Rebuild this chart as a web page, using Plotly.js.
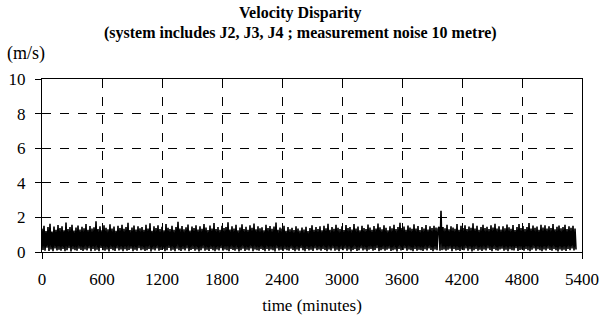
<!DOCTYPE html>
<html>
<head>
<meta charset="utf-8">
<script src="https://cdn.plot.ly/plotly-3.0.1.min.js"></script>
<style>html,body{margin:0;padding:0;background:#fff;}#chart{width:603px;height:320px;}</style>
</head>
<body>
<div id="chart"></div>
<script>
// time step between samples (minutes)
const timeStart = 0;
const timeStep = 10;
// velocity disparity (m/s)
const velocity = [
1.35,0.12,1.52,0.08,1.21,0.25,1.44,0.06,1.63,0.15,1.18,0.04,1.47,0.21,1.29,0.09,1.56,0.13,1.38,0.07,
1.49,0.18,1.26,0.05,1.71,0.11,1.33,0.22,1.45,0.03,1.58,0.16,1.24,0.10,1.41,0.07,1.53,0.19,1.30,0.12,
1.46,0.06,1.37,0.14,1.62,0.09,1.28,0.20,1.50,0.04,1.35,0.17,1.43,0.08,1.77,0.13,1.32,0.05,1.48,0.23,
1.25,0.10,1.55,0.07,1.40,0.15,1.31,0.03,1.60,0.18,1.36,0.11,1.47,0.06,1.22,0.21,1.51,0.09,1.39,0.14,
1.58,0.05,1.34,0.16,1.45,0.08,1.69,0.12,1.27,0.19,1.42,0.04,1.53,0.13,1.30,0.07,1.48,0.22,1.37,0.10,
1.44,0.15,1.29,0.06,1.57,0.11,1.35,0.18,1.66,0.03,1.23,0.14,1.49,0.09,1.38,0.20,1.54,0.07,1.32,0.12,
1.46,0.17,1.26,0.05,1.61,0.10,1.40,0.24,1.33,0.08,1.52,0.13,1.28,0.04,1.45,0.19,1.74,0.11,1.36,0.06,
1.50,0.16,1.31,0.09,1.43,0.21,1.59,0.05,1.24,0.12,1.47,0.18,1.39,0.07,1.55,0.14,1.30,0.03,1.48,0.10,
1.34,0.20,1.62,0.08,1.41,0.13,1.27,0.06,1.53,0.17,1.36,0.11,1.68,0.04,1.32,0.15,1.45,0.09,1.29,0.22,
1.51,0.07,1.38,0.14,1.44,0.10,1.72,0.05,1.30,0.18,1.49,0.12,1.35,0.08,1.57,0.16,1.26,0.03,1.42,0.11,
1.60,0.19,1.33,0.06,1.46,0.13,1.28,0.09,1.54,0.21,1.40,0.04,1.65,0.15,1.31,0.10,1.48,0.07,1.37,0.17,
1.43,0.12,1.25,0.05,1.58,0.18,1.39,0.08,1.50,0.14,1.34,0.11,1.47,0.03,1.70,0.20,1.29,0.09,1.41,0.13,
1.36,0.06,1.52,0.16,1.22,0.10,1.45,0.07,1.31,0.19,1.40,0.12,1.27,0.04,1.49,0.15,1.35,0.08,1.24,0.22,
1.42,0.11,1.30,0.05,1.46,0.17,1.21,0.09,1.38,0.13,1.55,0.06,1.28,0.20,1.44,0.10,1.33,0.14,1.48,0.07,
1.26,0.18,1.51,0.12,1.37,0.04,1.63,0.15,1.29,0.09,1.45,0.21,1.34,0.07,1.58,0.13,1.40,0.05,1.32,0.16,
1.49,0.10,1.27,0.19,1.56,0.08,1.38,0.14,1.44,0.03,1.30,0.12,1.61,0.17,1.35,0.06,1.47,0.11,1.25,0.20,
1.52,0.09,1.39,0.15,1.33,0.05,1.59,0.13,1.41,0.18,1.28,0.07,1.50,0.12,1.36,0.22,1.64,0.04,1.43,0.10,
1.31,0.16,1.54,0.08,1.40,0.13,1.26,0.19,1.48,0.06,1.37,0.11,1.57,0.14,1.32,0.03,1.45,0.17,1.69,0.09,
1.38,0.12,1.47,0.20,1.29,0.07,1.53,0.15,1.42,0.10,1.34,0.05,1.60,0.18,1.36,0.08,1.50,0.13,1.27,0.11,
1.44,0.06,1.35,0.16,1.56,0.09,1.30,0.21,1.48,0.12,1.39,0.04,1.52,0.14,1.41,0.10,1.33,1.46,0.07,2.38,
0.11,1.45,0.15,1.37,0.08,1.58,0.13,1.31,0.19,1.49,0.05,1.42,0.17,1.34,0.09,1.62,0.12,1.28,0.06,1.51,
0.14,1.39,0.10,1.55,0.20,1.33,0.07,1.47,0.16,1.40,0.03,1.66,0.11,1.36,0.18,1.52,0.08,1.29,0.13,1.44,
0.06,1.57,0.15,1.38,0.09,1.46,0.21,1.32,0.12,1.54,0.04,1.41,0.17,1.63,0.10,1.35,0.07,1.49,0.14,1.30,
0.19,1.48,0.08,1.37,0.13,1.59,0.05,1.43,0.16,1.34,0.11,1.56,0.09,1.27,0.22,1.45,0.06,1.61,0.12,1.39,
0.15,1.50,0.07,1.32,0.18,1.44,0.10,1.68,0.04,1.36,0.13,1.53,0.20,1.40,0.08,1.47,0.16,1.29,0.11,1.58,
0.05,1.42,0.14,1.55,0.09,1.35,0.19,1.49,0.12,1.38,0.07,1.62,0.17,1.31,0.10,1.46,0.03,1.53,0.15,1.37,
0.08,1.44,0.13,1.57,0.06,1.33,0.18,1.48,0.11,1.40,0.21,1.52,0.09,1.36,0.14
];
const xTicks = [0,600,1200,1800,2400,3000,3600,4200,4800,5400];
const yTicks = [0,2,4,6,8,10];
const titleLines = ["Velocity Disparity","(system includes J2, J3, J4 ; measurement noise 10 metre)"];
const yUnit = "(m/s)";
const xTitle = "time (minutes)";

const time = velocity.map((_, i) => timeStart + i * timeStep);
const serif = "Liberation Serif";

const trace = {
  x: time, y: velocity, type: 'scatter', mode: 'lines',
  line: {color: '#000', width: 1.6}, hoverinfo: 'skip'
};

const layout = {
  width: 603, height: 320,
  margin: {l: 42, r: 21, t: 79, b: 68},
  paper_bgcolor: '#fff', plot_bgcolor: '#fff',
  showlegend: false,
  font: {family: serif, color: '#000', size: 17},
  title: {
    text: '<b>' + titleLines[0] + '</b><br><b>' + titleLines[1] + '</b>',
    font: {family: serif, size: 16, color: '#000'},
    xref: 'container', x: 0.498, xanchor: 'center',
    yref: 'container', y: 0.945, yanchor: 'top'
  },
  xaxis: {
    range: [0, 5400], tickvals: xTicks, ticktext: xTicks.map(String),
    showgrid: true, gridcolor: '#000', griddash: 'dash', gridwidth: 1,
    showline: true, linecolor: '#000', linewidth: 1, mirror: true,
    ticks: 'outside', ticklen: 6, tickcolor: '#000',
    tickfont: {family: serif, size: 17, color: '#000'},
    ticklabelstandoff: 6,
    zeroline: false,
    title: {text: xTitle, font: {family: serif, size: 17, color: '#000'}, standoff: 10}
  },
  yaxis: {
    range: [0, 10], tickvals: yTicks, ticktext: yTicks.map(String),
    showgrid: true, gridcolor: '#000', griddash: 'dash', gridwidth: 1,
    showline: true, linecolor: '#000', linewidth: 1, mirror: true,
    ticks: 'outside', ticklen: 6, tickcolor: '#000',
    tickfont: {family: serif, size: 17, color: '#000'},
    ticklabelstandoff: 6,
    zeroline: false
  },
  annotations: [{
    text: yUnit, xref: 'paper', yref: 'paper', x: -0.068, y: 1.15,
    xanchor: 'left', yanchor: 'middle', showarrow: false,
    font: {family: serif, size: 18, color: '#000'}
  }]
};

Plotly.newPlot('chart', [trace], layout, {displayModeBar: false, staticPlot: true});
</script>
</body>
</html>
